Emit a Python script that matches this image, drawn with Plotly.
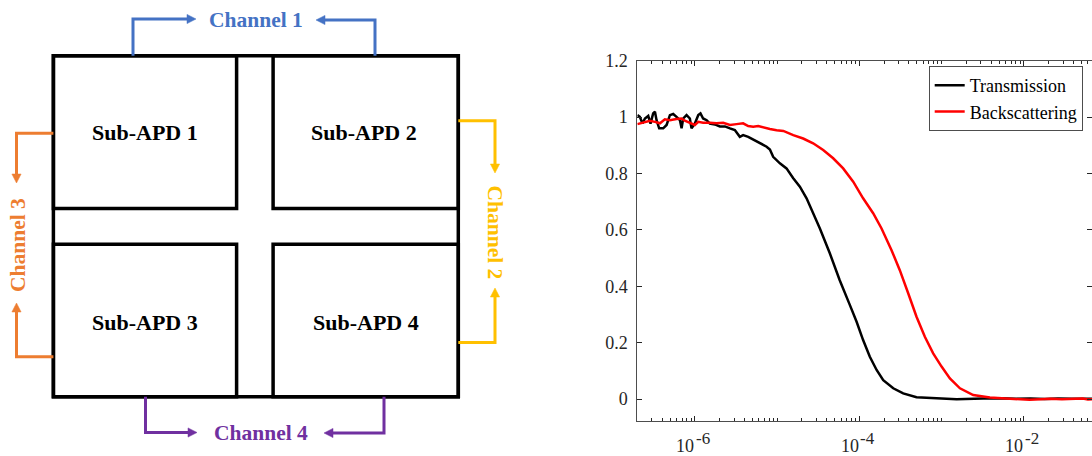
import math
import plotly.graph_objects as go

# ---------------- data ----------------
delay_trans = [2.00e-7, 2.14e-7, 2.31e-7, 2.47e-7, 2.71e-7, 2.89e-7, 3.11e-7, 3.27e-7, 3.42e-7, 3.68e-7,
               4.12e-7, 4.53e-7, 4.97e-7, 5.45e-7, 5.98e-7, 6.58e-7, 6.89e-7, 7.21e-7, 7.92e-7, 8.69e-7,
               9.10e-7, 1.00e-6, 1.10e-6, 1.17e-6, 1.26e-6, 1.39e-6, 1.52e-6, 1.75e-6, 2.01e-6, 2.32e-6,
               2.67e-6, 3.06e-6, 3.52e-6, 3.86e-6, 4.45e-6, 5.12e-6, 5.89e-6, 6.76e-6, 7.45e-6, 8.17e-6,
               8.95e-6, 1.08e-5, 1.30e-5, 1.57e-5, 1.89e-5, 2.28e-5, 2.74e-5, 3.31e-5, 4.37e-5, 5.75e-5,
               7.67e-5, 9.25e-5, 1.11e-4, 1.34e-4, 1.62e-4, 1.95e-4, 2.58e-4, 3.41e-4, 4.95e-4, 7.89e-4,
               1.52e-3, 3.20e-3, 5.13e-3, 8.0e-3, 1.2e-2, 1.8e-2, 2.6e-2, 3.8e-2, 5.5e-2, 7.0e-2]
transmission = [1.007, 1.001, 0.977, 0.995, 1.004, 0.977, 1.013, 1.019, 0.989, 0.960,
                0.960, 0.972, 1.007, 1.011, 1.001, 0.989, 0.960, 0.995, 1.007, 0.995,
                0.960, 0.977, 1.007, 1.013, 0.995, 0.989, 0.977, 0.974, 0.967, 0.967,
                0.960, 0.954, 0.930, 0.936, 0.930, 0.921, 0.912, 0.901, 0.895, 0.885,
                0.859, 0.836, 0.818, 0.783, 0.753, 0.712, 0.659, 0.605, 0.517, 0.422,
                0.333, 0.274, 0.209, 0.150, 0.103, 0.067, 0.038, 0.020, 0.006, 0.002,
                -0.001, 0.002, 0.003, 0.001, 0.002, 0.000, 0.002, 0.001, 0.000, 0.001]

delay_back = [2.00e-7, 2.36e-7, 2.84e-7, 3.27e-7, 3.76e-7, 4.32e-7, 4.97e-7, 5.98e-7, 6.89e-7, 7.55e-7,
              8.69e-7, 1.00e-6, 1.10e-6, 1.26e-6, 1.52e-6, 1.83e-6, 2.21e-6, 2.43e-6, 2.67e-6, 3.21e-6,
              3.86e-6, 4.45e-6, 5.12e-6, 5.89e-6, 6.76e-6, 8.17e-6, 9.84e-6, 1.19e-5, 1.57e-5, 2.07e-5,
              2.74e-5, 3.63e-5, 4.80e-5, 6.35e-5, 8.41e-5, 1.11e-4, 1.47e-4, 1.86e-4, 2.46e-4, 3.10e-4,
              3.92e-4, 4.95e-4, 6.25e-4, 7.89e-4, 9.98e-4, 1.26e-3, 1.67e-3, 2.42e-3, 3.86e-3, 6.76e-3,
              1.17e-2, 1.6e-2, 2.1e-2, 2.9e-2, 4.0e-2, 5.2e-2, 6.0e-2, 7.0e-2]
backscattering = [0.975, 0.980, 0.987, 0.983, 0.978, 0.992, 0.989, 0.993, 0.995, 0.987,
                  0.980, 0.972, 0.983, 0.980, 0.980, 0.978, 0.980, 0.975, 0.972, 0.975,
                  0.978, 0.968, 0.966, 0.968, 0.963, 0.958, 0.953, 0.951, 0.936, 0.924,
                  0.907, 0.883, 0.854, 0.818, 0.771, 0.712, 0.659, 0.605, 0.528, 0.457,
                  0.375, 0.292, 0.221, 0.162, 0.115, 0.073, 0.038, 0.014, 0.005, 0.000,
                  -0.003, -0.001, 0.001, -0.001, 0.000, 0.002, -0.002, 0.000]

series_names = ["Transmission", "Backscattering"]
x_tick_values = [1e-6, 1e-4, 1e-2]
x_tick_base = ["10", "10", "10"]
x_tick_exponents = ["-6", "-4", "-2"]
y_tick_values = [0, 0.2, 0.4, 0.6, 0.8, 1.0, 1.2]
y_tick_labels = ["0", "0.2", "0.4", "0.6", "0.8", "1", "1.2"]

sub_apd_labels = ["Sub-APD 1", "Sub-APD 2", "Sub-APD 3", "Sub-APD 4"]
channel_labels = ["Channel 1", "Channel 2", "Channel 3", "Channel 4"]

# ---------------- layout constants ----------------
W, H = 1092, 456
AX_L, AX_R, AX_T, AX_B = 637.3, 1092.0, 60.7, 421.0
SERIF = "Liberation Serif"
AXC = "#262626"
LINEC = "#4d4d4d"
TICK_FS = 18

fig = go.Figure()
fig.add_trace(go.Scatter(x=delay_trans, y=transmission, mode="lines", name=series_names[0],
                         line=dict(color="#000000", width=2.5)))
fig.add_trace(go.Scatter(x=delay_back, y=backscattering, mode="lines", name=series_names[1],
                         line=dict(color="#FF0000", width=2.5)))
# invisible carrier for diagram (pixel coordinate) axes
fig.add_trace(go.Scatter(x=[0], y=[0], xaxis="x2", yaxis="y2", mode="markers",
                         marker=dict(opacity=0), showlegend=False, hoverinfo="skip"))

minor_vals = []
for e in range(-7, 0):
    for d in range(1, 10):
        v = d * 10.0 ** e
        if d == 1 and e in (-6, -4, -2):
            continue
        minor_vals.append(v)

shapes = []
# frame and sub-APD boxes
FL, FR, FT, FB = 53.4, 458.3, 55.7, 396.7
GX0, GX1, GY0, GY1 = 236.6, 273.1, 208.5, 244.3
frame_w = 3.5
for (x0, y0, x1, y1) in [(FL, FT, FR, FB), (FL, FT, GX0, GY0), (GX1, FT, FR, GY0),
                         (FL, GY1, GX0, FB), (GX1, GY1, FR, FB)]:
    shapes.append(dict(type="rect", xref="x2", yref="y2", x0=x0, y0=y0, x1=x1, y1=y1,
                       line=dict(color="#000000", width=frame_w), fillcolor="rgba(0,0,0,0)"))

HEAD_L, HEAD_W = 9.0, 4.6
DIRS = {"r": (1, 0), "l": (-1, 0), "d": (0, 1), "u": (0, -1)}


def connector(points, tip, d, color):
    dx, dy = DIRS[d]
    bx, by = tip[0] - HEAD_L * dx, tip[1] - HEAD_L * dy
    pts = list(points) + [(bx, by)]
    path = "M " + " L ".join(f"{x},{y}" for x, y in pts)
    shapes.append(dict(type="path", xref="x2", yref="y2", path=path,
                       line=dict(color=color, width=3), fillcolor="rgba(0,0,0,0)"))
    px, py = -dy, dx
    head = (f"M {tip[0]},{tip[1]} L {bx + HEAD_W * px},{by + HEAD_W * py} "
            f"L {bx - HEAD_W * px},{by - HEAD_W * py} Z")
    shapes.append(dict(type="path", xref="x2", yref="y2", path=head,
                       line=dict(color=color, width=0.5), fillcolor=color))


C1, C2, C3, C4 = "#4472C4", "#FFC000", "#ED7D31", "#7030A0"
connector([(133, FT), (133, 19)], (196, 19), "r", C1)
connector([(375, FT), (375, 20)], (316, 20), "l", C1)
connector([(145.5, FB), (145.5, 432.5)], (197, 432.5), "r", C4)
connector([(384, FB), (384, 433)], (324, 433), "l", C4)
connector([(FL, 133.3), (16.5, 133.3)], (16.5, 183), "d", C3)
connector([(FL, 356.7), (16.5, 356.7)], (16.5, 303), "u", C3)
connector([(FR, 120.7), (495, 120.7)], (495, 173), "d", C2)
connector([(FR, 342.5), (495, 342.5)], (495, 288), "u", C2)

annotations = []
for txt, (x, y) in zip(sub_apd_labels, [(145, 132.5), (364, 132.5), (145, 322.5), (366, 322.5)]):
    annotations.append(dict(xref="x2", yref="y2", x=x, y=y, text=txt, showarrow=False,
                            xanchor="center", yanchor="middle",
                            font=dict(family=SERIF, size=22, color="#000000", weight="bold")))
for txt, (x, y), ang, col in zip(channel_labels,
                                 [(256, 20), (494.5, 232), (18, 245), (261, 433)],
                                 [0, 90, -90, 0], [C1, C2, C3, C4]):
    annotations.append(dict(xref="x2", yref="y2", x=x, y=y, text=txt, showarrow=False,
                            textangle=ang, xanchor="center", yanchor="middle",
                            font=dict(family=SERIF, size=21.5, color=col, weight="bold")))

# x tick labels "10" with a near full-size raised exponent, placed at the tick values
for tv, base, ex in zip(x_tick_values, x_tick_base, x_tick_exponents):
    lx = math.log10(tv)
    annotations.append(dict(xref="x", yref="y2", x=lx, y=446, text=base, showarrow=False,
                            xanchor="right", yanchor="middle", borderpad=0, xshift=0.5,
                            font=dict(family=SERIF, size=TICK_FS, color=AXC)))
    annotations.append(dict(xref="x", yref="y2", x=lx, y=438, text=ex, showarrow=False,
                            xanchor="left", yanchor="middle", borderpad=0, xshift=0,
                            font=dict(family=SERIF, size=17, color=AXC)))

fig.update_layout(
    width=W, height=H, autosize=False,
    margin=dict(l=0, r=0, t=0, b=0, pad=0, autoexpand=False),
    paper_bgcolor="white", plot_bgcolor="rgba(0,0,0,0)",
    font=dict(family=SERIF, color=AXC),
    showlegend=True,
    legend=dict(x=1082.7 / W, y=1 - 66 / H, xanchor="right", yanchor="top",
                bgcolor="white", bordercolor=LINEC, borderwidth=1,
                font=dict(family=SERIF, size=18, color="#000000"),
                tracegroupgap=0, itemwidth=30),
    xaxis=dict(type="log", domain=[AX_L / W, AX_R / W], range=[-6.70, -1.172],
               tickmode="array", tickvals=x_tick_values, showticklabels=False,
               ticks="inside", ticklen=5, tickwidth=1, tickcolor=AXC,
               showline=True, linecolor=LINEC, linewidth=1, mirror="ticks",
               showgrid=False, zeroline=False, anchor="y", automargin=False,
               minor=dict(tickmode="array", tickvals=minor_vals, ticks="inside", ticklen=3,
                          tickwidth=1, tickcolor=AXC, showgrid=False)),
    yaxis=dict(domain=[(H - AX_B) / H, (H - AX_T) / H], range=[-0.078, 1.2],
               tickmode="array", tickvals=y_tick_values, ticktext=y_tick_labels,
               ticks="inside", ticklen=5, tickwidth=1, tickcolor=AXC,
               showline=True, linecolor=LINEC, linewidth=1, mirror="ticks",
               showgrid=False, zeroline=False, anchor="x", automargin=False,
               tickfont=dict(family=SERIF, size=TICK_FS, color=AXC), ticklabelstandoff=5),
    xaxis2=dict(domain=[0, 1], range=[0, W], visible=False, anchor="y2", fixedrange=True,
                automargin=False),
    yaxis2=dict(domain=[0, 1], range=[H, 0], visible=False, anchor="x2", fixedrange=True,
                automargin=False),
    shapes=shapes,
    annotations=annotations,
)

fig.write_html("out.html")
